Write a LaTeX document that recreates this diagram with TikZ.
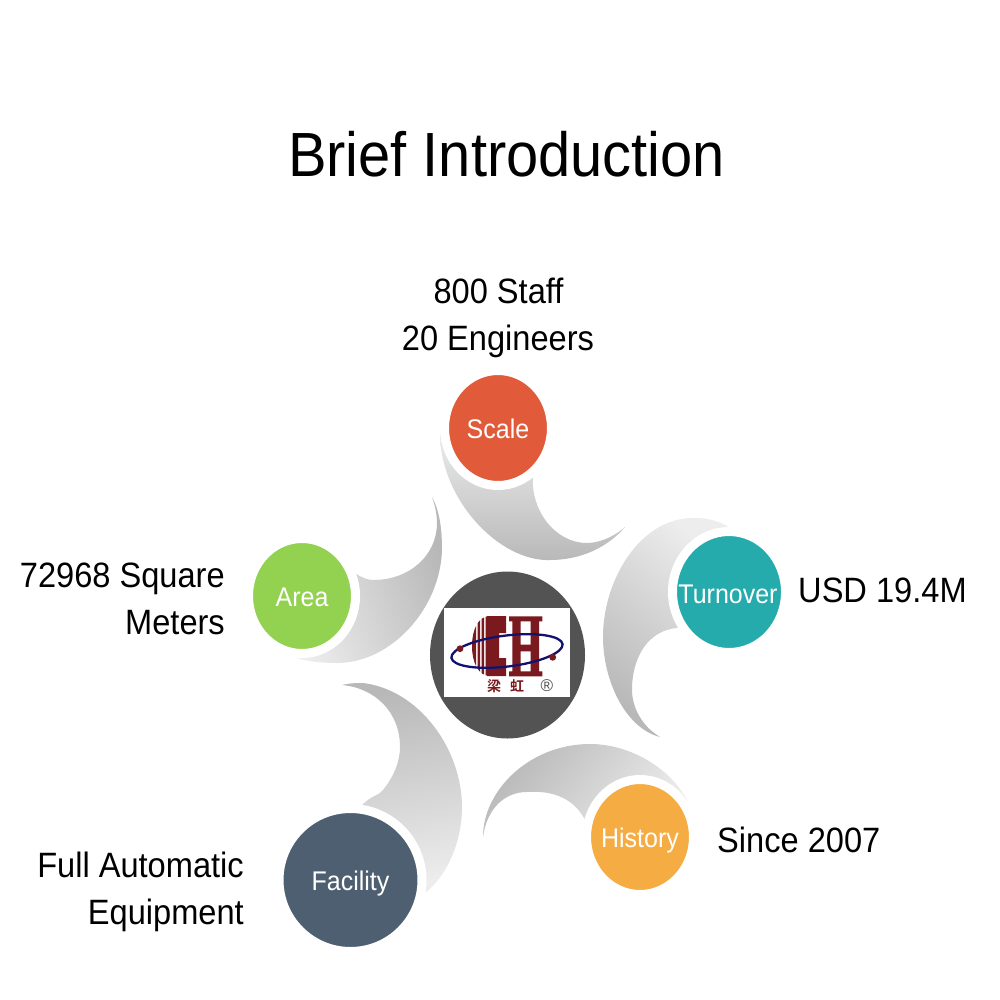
\documentclass[tikz,border=0pt]{standalone}
\usepackage{graphicx}
\usepackage{fontspec}
\setmainfont{Liberation Sans}
\newfontfamily\cjk{Noto Sans CJK SC}[BoldFont={Noto Sans CJK SC Bold}]
\usetikzlibrary{shapes.geometric}
\definecolor{cscale}{HTML}{E15B3B}
\definecolor{cturn}{HTML}{25ABAB}
\definecolor{chist}{HTML}{F5AC43}
\definecolor{cfac}{HTML}{4D5F70}
\definecolor{carea}{HTML}{93D250}
\definecolor{ccen}{HTML}{535353}
\definecolor{lred}{HTML}{7A1A1E}
\definecolor{lblue}{HTML}{12126E}
\definecolor{gdark}{HTML}{B8B8B8}
\definecolor{glight}{HTML}{EDEDED}
\newcommand{\tall}[1]{\scalebox{1}[1.08]{#1}}
\tikzset{
  x=1pt,y=-1pt,
  crescent/.style={top color=glight,bottom color=gdark,draw=none,shading angle=#1},
  ballnode/.style={ellipse,inner sep=0pt,draw=white,line width=9pt},
  balltext/.style={anchor=base,inner sep=0pt,text=white,font=\fontsize{25}{30}\selectfont},
  lab/.style={font=\fontsize{32.6}{47}\selectfont,inner sep=0pt,text=black},
}
\begin{document}
\begin{tikzpicture}
\useasboundingbox (0,0) rectangle (1000,1000);
\fill[white] (0,0) rectangle (1000,1000);
% crescents
\shade[crescent=0] (440,433) .. controls (440,500) and (500,562) .. (550,560)
  .. controls (580,560) and (607,548) .. (625,527)
  .. controls (610,540) and (595,543) .. (587,543)
  .. controls (555,543) and (530,510) .. (533,475) -- (498,428) -- cycle;
\shade[crescent=-40] (727,526) .. controls (712,518) and (700,518) .. (693,518)
  .. controls (640,518) and (603,580) .. (603,637)
  .. controls (603,680) and (625,728) .. (660,737)
  .. controls (640,725) and (632,705) .. (632,690)
  .. controls (632,655) and (650,630) .. (677,628) -- (729,592) -- cycle;
\shade[crescent=-130] (687,800) .. controls (670,768) and (630,744) .. (590,744)
  .. controls (530,744) and (483,790) .. (483,837)
  .. controls (487,808) and (505,792) .. (527,792)
  .. controls (555,790) and (575,800) .. (585,820) -- (640,837) -- cycle;
\shade[crescent=190] (342,685) .. controls (350,683) and (358,683) .. (363,683)
  .. controls (420,690) and (462,750) .. (462,807)
  .. controls (462,840) and (448,875) .. (426,892) -- (350,880) -- (362,805)
  .. controls (372,795) and (380,795) .. (383,790)
  .. controls (395,775) and (400,760) .. (400,747)
  .. controls (400,712) and (375,688) .. (342,685) -- cycle;
\shade[crescent=110] (432,497) .. controls (440,512) and (442,530) .. (442,550)
  .. controls (440,610) and (390,663) .. (337,663)
  .. controls (315,663) and (298,660) .. (285,653) -- (302,596) -- (355,573)
  .. controls (362,578) and (368,580) .. (373,580)
  .. controls (410,580) and (437,555) .. (437,523)
  .. controls (437,515) and (435,505) .. (432,497) -- cycle;
% balls
\node[ballnode,fill=cscale,minimum width=107pt,minimum height=115pt] (scale) at (498,428) {};
\node[ballnode,fill=cturn,minimum width=113pt,minimum height=121pt] (turn) at (729,592) {};
\node[ballnode,fill=chist,minimum width=107pt,minimum height=115pt] (hist) at (640,837) {};
\node[ballnode,fill=cfac,minimum width=143pt,minimum height=143pt] (fac) at (350.5,880) {};
\node[ballnode,fill=carea,minimum width=107pt,minimum height=115pt] (area) at (302,596) {};
\node[balltext] (scalet) at (498,438) {\tall{Scale}};
\node[balltext] (turnt) at (728,603) {\tall{Turnover}};
\node[balltext] (histt) at (640,847) {\tall{History}};
\node[balltext] (fact) at (350.5,890) {\tall{Facility}};
\node[balltext] (areat) at (302,606) {\tall{Area}};
\node[ellipse,inner sep=0pt,fill=ccen,minimum width=155pt,minimum height=167pt] (cen) at (507.5,655) {};
% logo
\fill[white] (444,608) rectangle (570,697);
\begin{scope}
  \clip (490,616) .. controls (478,616) and (472,630) .. (472,646) .. controls (472,662) and (478,676) .. (490,676) -- cycle;
  \fill[lred] (472,610) rectangle (476,680) (477.5,610) rectangle (480,680) (481.5,610) rectangle (484,680) (485.5,610) rectangle (490,680);
\end{scope}
\fill[lred] (487,616) rectangle (499,676) (487,616) rectangle (506,623) (487,669) rectangle (506,676)
  (499,616) rectangle (506,633) (499,658) rectangle (506,676);
\fill[lred] (509,616.3) rectangle (542.3,621.3) (509,671.3) rectangle (542.3,676.3)
  (512.3,616.3) rectangle (520.7,676.3) (530.7,616.3) rectangle (539,676.3)
  (512.3,644.7) rectangle (539,651.3);
\draw[lblue,line width=2.3pt,rotate around={7:(507,651)}] (507,651) ellipse (56pt and 15.5pt);
\fill[lred] (460,648.7) circle (3.4pt) (552.7,657.3) circle (3.4pt);
\node[inner sep=0pt,text=lred,font=\cjk\bfseries\fontsize{14}{16}\selectfont] (lg1) at (494,686) {梁};
\node[inner sep=0pt,text=lred,font=\cjk\bfseries\fontsize{14}{16}\selectfont] (lg2) at (517,686) {虹};
\node[inner sep=0pt,text=black!70,font=\fontsize{17}{18}\selectfont] (lg3) at (547,686) {®};
% text
\node[font=\fontsize{57.8}{60}\selectfont,inner sep=0pt,anchor=base] (title) at (506.5,177) {\tall{Brief Introduction}};
\node[lab,anchor=base] (t1) at (498.5,303) {\tall{800 Staff}};
\node[lab,anchor=base] (t1b) at (498,350) {\tall{20 Engineers}};
\node[lab,anchor=base west] (t2) at (798,602) {\tall{USD 19.4M}};
\node[lab,anchor=base west] (t3) at (717,852) {\tall{Since 2007}};
\node[lab,anchor=base east] (t4) at (244,877) {\tall{Full Automatic}};
\node[lab,anchor=base east] (t4b) at (244,924) {\tall{Equipment}};
\node[lab,anchor=base east] (t5) at (225,587) {\tall{72968 Square}};
\node[lab,anchor=base east] (t5b) at (225,634) {\tall{Meters}};
\end{tikzpicture}
\end{document}
